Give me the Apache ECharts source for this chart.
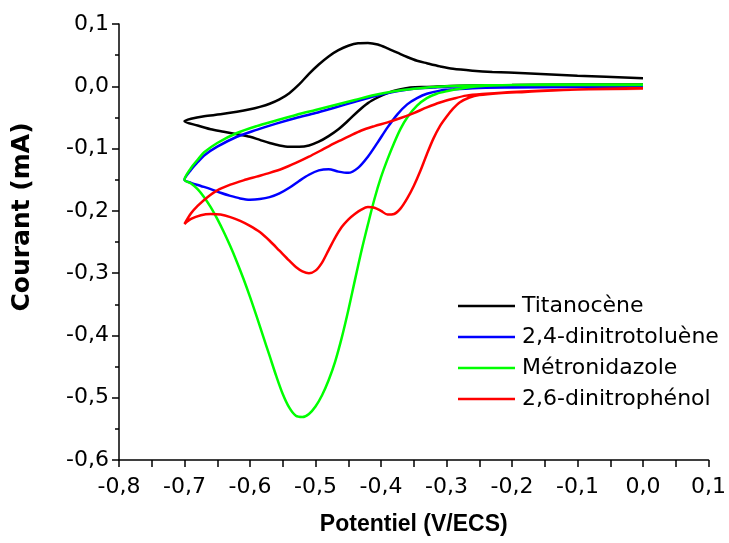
<!DOCTYPE html>
<html>
<head>
<meta charset="utf-8">
<script src="https://cdn.jsdelivr.net/npm/echarts@6/dist/echarts.min.js"></script>
<style>
html,body{margin:0;padding:0;background:#fff;}
#chart{width:729px;height:543px;}
</style>
</head>
<body>
<div id="chart"></div>
<script>
// Series names
const seriesNames = ['Titanocène', '2,4-dinitrotoluène', 'Métronidazole', '2,6-dinitrophénol'];
const seriesColors = ['#000000', '#0000ff', '#00ff00', '#ff0000'];

// Cyclic voltammograms, in scan order: [potential (V/ECS), current (mA)]
const titanocene = [
  [0.0, 0.003], [-0.1, 0.003], [-0.2, 0.002], [-0.28, 0.001], [-0.33, -0.001], [-0.355, -0.002],
  [-0.375, -0.006], [-0.39, -0.011], [-0.405, -0.018], [-0.42, -0.027], [-0.435, -0.040],
  [-0.45, -0.055], [-0.465, -0.069], [-0.48, -0.080], [-0.495, -0.089], [-0.51, -0.095],
  [-0.525, -0.097], [-0.54, -0.097], [-0.555, -0.095], [-0.57, -0.091], [-0.585, -0.086],
  [-0.60, -0.081], [-0.62, -0.077], [-0.64, -0.073], [-0.66, -0.069], [-0.68, -0.063], [-0.7, -0.056],
  [-0.69, -0.052], [-0.67, -0.048], [-0.645, -0.045], [-0.62, -0.041], [-0.60, -0.037],
  [-0.585, -0.033], [-0.57, -0.028], [-0.555, -0.021], [-0.54, -0.011], [-0.525, 0.003],
  [-0.51, 0.020], [-0.495, 0.035], [-0.48, 0.048], [-0.465, 0.058], [-0.45, 0.065],
  [-0.435, 0.069], [-0.42, 0.0695], [-0.405, 0.067], [-0.39, 0.061], [-0.375, 0.054],
  [-0.36, 0.047], [-0.345, 0.041], [-0.33, 0.037], [-0.31, 0.032], [-0.29, 0.028],
  [-0.26, 0.025], [-0.23, 0.023], [-0.18, 0.021], [-0.1, 0.017], [0.0, 0.013]
];
const dinitrotoluene = [
  [0.0, -0.001], [-0.1, -0.001], [-0.2, -0.002], [-0.26, -0.003], [-0.29, -0.005], [-0.31, -0.007],
  [-0.33, -0.012], [-0.345, -0.019], [-0.36, -0.029], [-0.375, -0.045], [-0.39, -0.066],
  [-0.405, -0.090], [-0.42, -0.113], [-0.435, -0.131], [-0.45, -0.139], [-0.465, -0.137],
  [-0.48, -0.133], [-0.495, -0.135], [-0.51, -0.142], [-0.525, -0.152], [-0.54, -0.163],
  [-0.555, -0.172], [-0.57, -0.178], [-0.585, -0.181], [-0.60, -0.182], [-0.615, -0.180],
  [-0.63, -0.176], [-0.645, -0.171], [-0.66, -0.165], [-0.675, -0.160], [-0.69, -0.155], [-0.7, -0.150],
  [-0.69, -0.134], [-0.68, -0.122], [-0.67, -0.111], [-0.65, -0.097], [-0.62, -0.081],
  [-0.59, -0.070], [-0.56, -0.060], [-0.53, -0.051], [-0.50, -0.043], [-0.47, -0.034],
  [-0.44, -0.025], [-0.41, -0.016], [-0.38, -0.009], [-0.35, -0.004], [-0.32, -0.002],
  [-0.28, 0.0], [-0.2, 0.001], [-0.1, 0.001], [0.0, 0.001]
];
const metronidazole = [
  [0.0, 0.003], [-0.1, 0.003], [-0.2, 0.002], [-0.25, 0.0], [-0.28, -0.004], [-0.30, -0.008],
  [-0.315, -0.012], [-0.33, -0.019], [-0.345, -0.031], [-0.36, -0.050], [-0.37, -0.068],
  [-0.38, -0.091], [-0.39, -0.117], [-0.40, -0.146], [-0.41, -0.181], [-0.42, -0.222],
  [-0.43, -0.265], [-0.44, -0.312], [-0.45, -0.360], [-0.46, -0.404], [-0.47, -0.442],
  [-0.48, -0.472], [-0.49, -0.496], [-0.50, -0.514], [-0.51, -0.526], [-0.52, -0.531],
  [-0.53, -0.529], [-0.54, -0.516], [-0.55, -0.494], [-0.56, -0.465], [-0.57, -0.433],
  [-0.58, -0.401], [-0.59, -0.369], [-0.60, -0.338], [-0.61, -0.309], [-0.62, -0.282],
  [-0.63, -0.257], [-0.64, -0.234], [-0.65, -0.213], [-0.66, -0.194], [-0.67, -0.178],
  [-0.68, -0.165], [-0.69, -0.156], [-0.7, -0.150],
  [-0.69, -0.131], [-0.68, -0.118], [-0.67, -0.106], [-0.65, -0.091], [-0.62, -0.075],
  [-0.59, -0.064], [-0.56, -0.055], [-0.53, -0.046], [-0.50, -0.038], [-0.47, -0.030],
  [-0.44, -0.022], [-0.41, -0.014], [-0.38, -0.008], [-0.35, -0.004], [-0.32, -0.001],
  [-0.28, 0.001], [-0.2, 0.002], [-0.1, 0.002], [0.0, 0.002]
];
const dinitrophenol = [
  [0.0, -0.004], [-0.1, -0.005], [-0.18, -0.009], [-0.22, -0.011], [-0.25, -0.014],
  [-0.265, -0.018], [-0.28, -0.026], [-0.29, -0.036], [-0.30, -0.049], [-0.31, -0.064],
  [-0.32, -0.084], [-0.33, -0.109], [-0.34, -0.136], [-0.35, -0.160], [-0.36, -0.180],
  [-0.37, -0.196], [-0.38, -0.205], [-0.39, -0.206], [-0.40, -0.200], [-0.41, -0.195],
  [-0.42, -0.194], [-0.43, -0.198], [-0.44, -0.205], [-0.45, -0.214], [-0.46, -0.226],
  [-0.47, -0.243], [-0.48, -0.263], [-0.49, -0.283], [-0.50, -0.296], [-0.51, -0.300],
  [-0.52, -0.297], [-0.53, -0.290], [-0.54, -0.280], [-0.555, -0.264], [-0.57, -0.248],
  [-0.585, -0.234], [-0.60, -0.224], [-0.615, -0.216], [-0.63, -0.210], [-0.645, -0.206],
  [-0.66, -0.205], [-0.675, -0.207], [-0.69, -0.213], [-0.7, -0.221],
  [-0.69, -0.204], [-0.68, -0.192], [-0.665, -0.178], [-0.65, -0.167], [-0.63, -0.158],
  [-0.61, -0.151], [-0.59, -0.145], [-0.57, -0.139], [-0.55, -0.132], [-0.53, -0.123],
  [-0.51, -0.113], [-0.49, -0.102], [-0.47, -0.091], [-0.45, -0.081], [-0.43, -0.071],
  [-0.41, -0.064], [-0.39, -0.058], [-0.37, -0.051], [-0.35, -0.043], [-0.33, -0.034],
  [-0.31, -0.026], [-0.29, -0.020], [-0.27, -0.015], [-0.24, -0.012], [-0.2, -0.009],
  [-0.1, -0.005], [0.0, -0.003]
];
const seriesData = [titanocene, dinitrotoluene, metronidazole, dinitrophenol];

// Axis settings
const xMin = -0.8, xMax = 0.1, xStep = 0.1;
const yMin = -0.6, yMax = 0.1, yStep = 0.1;
const xTitle = 'Potentiel (V/ECS)';
const yTitle = 'Courant (mA)';

const fmt = v => (Math.abs(v) < 1e-9 ? 0 : v).toFixed(1).replace('.', ',');
const LABEL_FONT = '"DejaVu Sans", "Liberation Sans", Arial, sans-serif';
const TITLE_FONT = '"Liberation Sans", Arial, sans-serif';

const chart = echarts.init(document.getElementById('chart'), null, {renderer: 'canvas'});
chart.setOption({
  animation: false,
  backgroundColor: '#ffffff',
  grid: {left: 119, right: 16, top: 24, bottom: 83, containLabel: false},
  legend: {
    left: 453, top: 289, orient: 'vertical', icon: 'rect',
    itemWidth: 57, itemHeight: 2.5, itemGap: 7,
    textStyle: {fontFamily: LABEL_FONT, fontSize: 22, lineHeight: 24, color: '#000', padding: [0, 0, 0, 2]},
    data: seriesNames
  },
  xAxis: {
    type: 'value', min: xMin, max: xMax, interval: xStep,
    axisLine: {show: true, onZero: false, lineStyle: {color: '#000', width: 1.5}},
    axisTick: {show: true, inside: false, length: 7, lineStyle: {color: '#000', width: 1.5}},
    minorTick: {show: true, splitNumber: 2, length: 7, lineStyle: {color: '#000', width: 1.5}},
    splitLine: {show: false},
    axisLabel: {formatter: fmt, fontFamily: LABEL_FONT, fontSize: 22, color: '#000', margin: 16},
    name: xTitle, nameLocation: 'middle', nameGap: 53,
    nameTextStyle: {fontFamily: TITLE_FONT, fontSize: 23, fontWeight: 'bold', color: '#000'}
  },
  yAxis: {
    type: 'value', min: yMin, max: yMax, interval: yStep,
    axisLine: {show: true, onZero: false, lineStyle: {color: '#000', width: 1.5}},
    axisTick: {show: true, inside: false, length: 7, lineStyle: {color: '#000', width: 1.5}},
    minorTick: {show: true, splitNumber: 2, length: 4, lineStyle: {color: '#000', width: 1.5}},
    splitLine: {show: false},
    axisLabel: {formatter: fmt, fontFamily: LABEL_FONT, fontSize: 22, color: '#000', margin: 10}
  },
  graphic: [{
    type: 'text', rotation: Math.PI / 2, x: 22, y: 217,
    style: {text: yTitle, font: 'bold 25px "DejaVu Sans", sans-serif', fill: '#000', align: 'center', verticalAlign: 'middle'}
  }],
  series: seriesNames.map((n, i) => ({
    name: n, type: 'line', data: seriesData[i], showSymbol: false, symbol: 'none',
    smooth: 0.3,
    lineStyle: {color: seriesColors[i], width: 2.5},
    itemStyle: {color: seriesColors[i]}
  }))
});
</script>
</body>
</html>
